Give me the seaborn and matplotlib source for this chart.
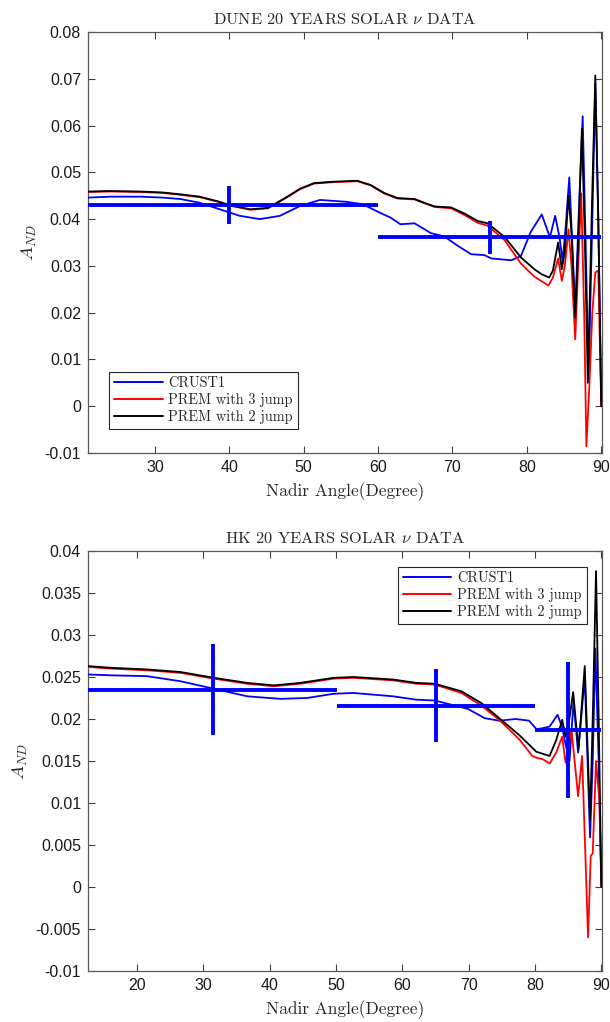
import numpy as np
import pandas as pd
import matplotlib
matplotlib.use("Agg")
import matplotlib.pyplot as plt
import seaborn as sns
from matplotlib.ticker import FuncFormatter

# ---------------- data ----------------
series_names = ["CRUST1", "PREM with 3 jump", "PREM with 2 jump"]
series_colors = ["#0000ff", "#ff0000", "#000000"]

# DUNE panel
dune_blue_x = [21.0, 24, 28, 31, 33.4, 36, 38.7, 41.4, 44.1, 46.8, 49.5, 52.2, 55.7, 57.9, 60.2, 61.7, 63.0,
               64.9, 67.1, 68.9, 70.7, 72.5, 74.3, 75.2, 77.9, 79.2, 80.5, 82.0, 83.1, 83.8, 84.4, 84.8, 85.2,
               85.7, 86.1, 86.5, 86.9, 87.5, 87.9, 88.3, 88.8, 89.2, 89.6, 90.0]
dune_blue_y = [0.0446, 0.0448, 0.0448, 0.0446, 0.0443, 0.0435, 0.0421, 0.0407, 0.0400, 0.0407, 0.0428, 0.0441,
               0.0437, 0.0432, 0.0414, 0.0403, 0.0389, 0.0391, 0.0370, 0.0363, 0.0343, 0.0325, 0.0323, 0.0316,
               0.0312, 0.0321, 0.0372, 0.0410, 0.0361, 0.0407, 0.0360, 0.0310, 0.0380, 0.0489, 0.0350, 0.0200,
               0.0380, 0.0620, 0.0350, 0.0060, 0.0400, 0.0690, 0.0400, 0.0010]

dune_black_x = [21.0, 24, 28, 31, 33.4, 36, 38.7, 40, 42.8, 45.2, 47.8, 49.5, 51.4, 54, 57.2, 59, 60.8, 62.6,
                64.9, 66.2, 67.6, 69.8, 71.6, 73.4, 74.7, 77, 79.2, 81, 82, 83, 83.5, 84.2, 84.7, 85.1, 85.6,
                86.0, 86.5, 86.9, 87.4, 87.8, 88.2, 88.7, 89.2, 89.6, 90.0]
dune_black_y = [0.0459, 0.0460, 0.0459, 0.0457, 0.0453, 0.0448, 0.0437, 0.0430, 0.0421, 0.0424, 0.0448, 0.0465,
                0.0477, 0.0480, 0.0482, 0.0473, 0.0456, 0.0445, 0.0443, 0.0435, 0.0427, 0.0425, 0.0412, 0.0396,
                0.0391, 0.0362, 0.0318, 0.0293, 0.0282, 0.0275, 0.0290, 0.0350, 0.0293, 0.0330, 0.0450, 0.0370,
                0.0189, 0.0350, 0.0593, 0.0350, 0.0050, 0.0400, 0.0707, 0.0400, 0.0000]

dune_red_x = [21.0, 24, 28, 31, 33.4, 36, 38.7, 40, 42.8, 45.2, 47.8, 49.5, 51.4, 54, 57.2, 59, 60.8, 62.6,
              64.9, 66.2, 67.6, 69.8, 71.6, 73.4, 74.7, 77, 79.2, 81, 82.9, 83.5, 84.2, 84.7, 85.1, 85.6, 86.0,
              86.5, 86.9, 87.3, 87.7, 88.0, 88.4, 88.8, 89.2, 89.6, 90.0]
dune_red_y = [0.0458, 0.0459, 0.0458, 0.0456, 0.0452, 0.0447, 0.0436, 0.0429, 0.0420, 0.0423, 0.0447, 0.0464,
              0.0476, 0.0479, 0.0481, 0.0472, 0.0455, 0.0444, 0.0442, 0.0434, 0.0426, 0.0423, 0.0409, 0.0392,
              0.0386, 0.0355, 0.0305, 0.0277, 0.0258, 0.0275, 0.0316, 0.0268, 0.0300, 0.0378, 0.0300, 0.0143,
              0.0300, 0.0455, 0.0200, -0.0086, 0.0043, 0.0200, 0.0286, 0.0290, 0.0000]

dune_bin_x = [40, 75]
dune_bin_xerr = [20, 15]
dune_bin_y = [0.0430, 0.0361]
dune_bin_yerr = [0.0041, 0.0035]

# HK panel
hk_blue_x = [12.6, 16, 21.5, 26.5, 31.6, 36.6, 41.6, 45.6, 49.6, 52.6, 58.6, 62.1, 64.9, 67.4, 69.9, 72.4, 74.6,
             77.1, 79.1, 80.2, 81.1, 82.2, 83.4, 84.1, 84.6, 85.2, 85.8, 86.5, 87.5, 88.3, 88.7, 89.1, 89.6, 90.0]
hk_blue_y = [0.0253, 0.0252, 0.0251, 0.0245, 0.0236, 0.0227, 0.0224, 0.0225, 0.0230, 0.0231, 0.0227, 0.0223,
             0.0222, 0.0217, 0.0212, 0.0201, 0.0198, 0.0200, 0.0198, 0.0188, 0.0189, 0.0191, 0.0205, 0.0190,
             0.0170, 0.0150, 0.0220, 0.0160, 0.0250, 0.0059, 0.0150, 0.0284, 0.0150, 0.0003]

hk_black_x = [12.6, 16, 21.5, 26.5, 31.6, 36.6, 40.6, 44.6, 49.6, 52.6, 58.6, 62.1, 64.9, 68.9, 71.9, 74.6, 77.6,
              80.2, 82.2, 83.2, 84.1, 84.6, 85.0, 85.75, 86.55, 87.5, 88.3, 88.7, 89.2, 89.6, 90.0]
hk_black_y = [0.0263, 0.0261, 0.0259, 0.0256, 0.0249, 0.0243, 0.0240, 0.0243, 0.0249, 0.0250, 0.0247, 0.0243,
              0.0242, 0.0233, 0.0219, 0.0201, 0.0181, 0.0161, 0.0156, 0.0175, 0.0199, 0.0179, 0.0190, 0.0232,
              0.0164, 0.0263, 0.0080, 0.0200, 0.0376, 0.0200, 0.0000]

hk_red_x = [12.6, 16, 21.5, 26.5, 31.6, 36.6, 40.6, 44.6, 49.6, 52.6, 58.6, 62.1, 64.9, 68.9, 71.9, 74.6, 77.6,
            79.6, 80.2, 81.2, 82.2, 83.2, 84.1, 84.6, 85.5, 86.5, 87.1, 88.0, 88.4, 88.7, 89.2, 89.7, 90.0]
hk_red_y = [0.0262, 0.0260, 0.0258, 0.0255, 0.0248, 0.0242, 0.0239, 0.0242, 0.0248, 0.0249, 0.0246, 0.0242,
            0.0241, 0.0231, 0.0216, 0.0199, 0.0176, 0.0156, 0.0154, 0.0152, 0.0147, 0.0160, 0.0179, 0.0148,
            0.0187, 0.0108, 0.0156, -0.0060, 0.0037, 0.0040, 0.0150, 0.0104, 0.0000]

hk_bin_x = [31.4, 65.1, 85]
hk_bin_xerr = [18.8, 14.9, 5]
hk_bin_y = [0.0235, 0.0216, 0.0187]
hk_bin_yerr = [0.0054, 0.0043, 0.0081]

titles = ["DUNE 20 YEARS SOLAR $\\nu$ DATA", "HK 20 YEARS SOLAR $\\nu$ DATA"]
xlabel = "Nadir Angle(Degree)"
ylabel = "$A_{ND}$"
dune_xticks = [30, 40, 50, 60, 70, 80, 90]
dune_yticks = [-0.01, 0, 0.01, 0.02, 0.03, 0.04, 0.05, 0.06, 0.07, 0.08]
hk_xticks = [20, 30, 40, 50, 60, 70, 80, 90]
hk_yticks = [-0.01, -0.005, 0, 0.005, 0.01, 0.015, 0.02, 0.025, 0.03, 0.035, 0.04]

# ---------------- style ----------------
sns.set_style("ticks")
plt.rcParams["font.family"] = ["Liberation Sans", "DejaVu Sans"]
plt.rcParams["mathtext.fontset"] = "cm"
plt.rcParams["axes.unicode_minus"] = False

fig = plt.figure(figsize=(6.1, 10.22), dpi=100)
ax1 = fig.add_axes([88 / 610, 1 - 453 / 1022, 514 / 610, 421 / 1022])
ax2 = fig.add_axes([88 / 610, 1 - 971 / 1022, 514 / 610, 420 / 1022])

serif = "cmr10"


def draw(ax, curves, bins, xlim, ylim, xticks, yticks, title, leg_loc, leg_anchor):
    for (xs, ys), name, col in zip(curves, series_names, series_colors):
        df = pd.DataFrame({"x": xs, "y": ys})
        sns.lineplot(data=df, x="x", y="y", ax=ax, color=col, lw=1.3, label=name,
                     estimator=None, sort=False, zorder=3)
    bx, bxe, by, bye = bins
    ax.errorbar(bx, by, xerr=bxe, yerr=bye, fmt="none", ecolor="#0000ff",
                elinewidth=2.8, capsize=0, zorder=4)
    ax.set_xlim(*xlim)
    ax.set_ylim(*ylim)
    ax.set_xticks(xticks)
    ax.set_yticks(yticks)
    ax.yaxis.set_major_formatter(FuncFormatter(lambda v, p: "%g" % round(v, 4)))
    ax.xaxis.set_major_formatter(FuncFormatter(lambda v, p: "%g" % v))
    ax.tick_params(direction="in", top=True, right=True, length=5, width=0.8,
                   labelsize=11.5, color="0.25", labelcolor="0.1", pad=5)
    for s in ax.spines.values():
        s.set_visible(True)
        s.set_color("0.35")
        s.set_linewidth(0.9)
    ax.set_title(title, fontfamily=serif, fontsize=11.8, pad=6)
    ax.set_xlabel(xlabel, fontfamily=serif, fontsize=12.5, labelpad=5)
    ax.set_ylabel(ylabel, fontsize=13.5, labelpad=4)
    leg = ax.legend(loc=leg_loc, bbox_to_anchor=leg_anchor, borderaxespad=0,
                    prop={"family": serif, "size": 10.3}, frameon=True, fancybox=False,
                    edgecolor="0.15", framealpha=1, handlelength=3.4, handletextpad=0.4,
                    labelspacing=0.2, borderpad=0.35)
    leg.get_frame().set_linewidth(0.8)
    for h in leg.get_lines():
        h.set_linewidth(1.4)


draw(ax1, [(dune_blue_x, dune_blue_y), (dune_red_x, dune_red_y), (dune_black_x, dune_black_y)],
     (dune_bin_x, dune_bin_xerr, dune_bin_y, dune_bin_yerr),
     (21.0, 90.1), (-0.01, 0.08), dune_xticks, dune_yticks, titles[0],
     "lower left", (0.041, 0.057))
draw(ax2, [(hk_blue_x, hk_blue_y), (hk_red_x, hk_red_y), (hk_black_x, hk_black_y)],
     (hk_bin_x, hk_bin_xerr, hk_bin_y, hk_bin_yerr),
     (12.6, 90.1), (-0.01, 0.04), hk_xticks, hk_yticks, titles[1],
     "upper right", (0.970, 0.963))

fig.savefig("out.png", dpi=100)
